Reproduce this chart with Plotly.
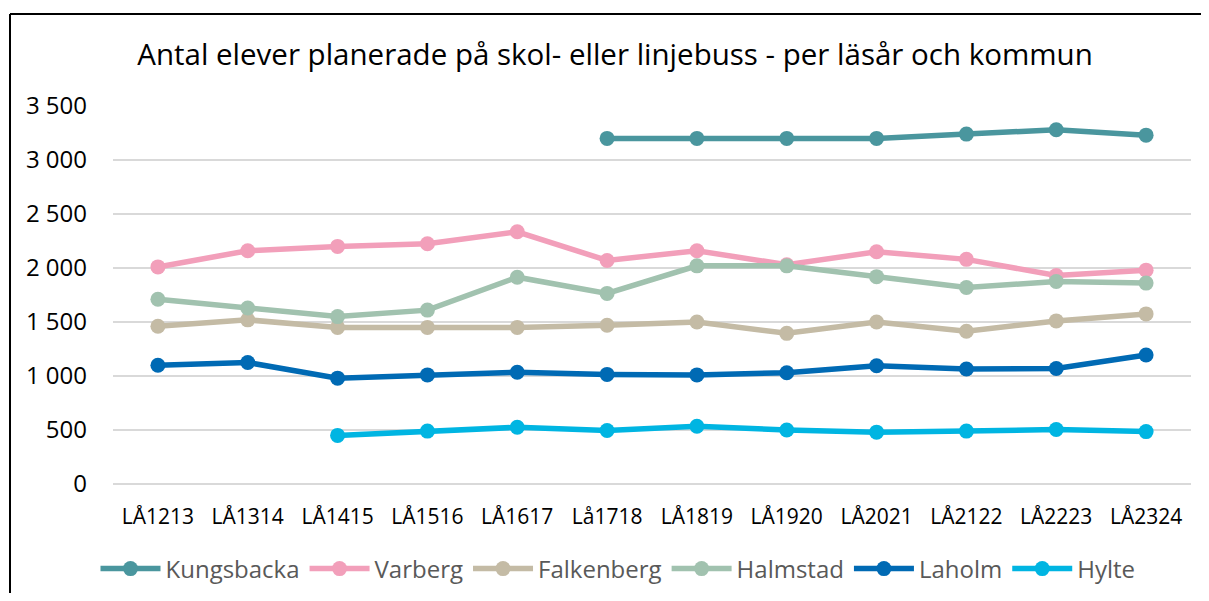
import plotly.graph_objects as go

categories = ["LÅ1213", "LÅ1314", "LÅ1415", "LÅ1516", "LÅ1617", "Lå1718",
              "LÅ1819", "LÅ1920", "LÅ2021", "LÅ2122", "LÅ2223", "LÅ2324"]

kungsbacka = [None, None, None, None, None, 3200, 3200, 3200, 3200, 3240, 3280, 3230]
varberg = [2010, 2160, 2200, 2225, 2335, 2070, 2160, 2030, 2150, 2080, 1930, 1980]
falkenberg = [1460, 1520, 1450, 1450, 1450, 1470, 1500, 1395, 1500, 1415, 1510, 1575]
halmstad = [1710, 1630, 1550, 1610, 1915, 1765, 2020, 2020, 1920, 1820, 1875, 1860]
laholm = [1100, 1125, 980, 1010, 1035, 1015, 1010, 1030, 1095, 1065, 1070, 1195]
hylte = [None, None, 450, 490, 525, 495, 535, 500, 480, 490, 505, 485]

series = [
    ("Kungsbacka", kungsbacka, "#4A969E"),
    ("Varberg", varberg, "#F29FBA"),
    ("Falkenberg", falkenberg, "#C4BBA5"),
    ("Halmstad", halmstad, "#A1C2AF"),
    ("Laholm", laholm, "#006AB4"),
    ("Hylte", hylte, "#00B5E2"),
]

ytick_vals = [0, 500, 1000, 1500, 2000, 2500, 3000, 3500]
ytick_text = ["0", "500", "1 000", "1 500", "2 000", "2 500", "3 000", "3 500"]

fig = go.Figure()
for name, vals, color in series:
    fig.add_trace(go.Scatter(
        x=categories, y=vals, name=name, mode="lines+markers",
        line=dict(color=color, width=5.5),
        marker=dict(color=color, size=15),
        connectgaps=False,
    ))

# page has an 8px body margin; size the figure so it fits without scrollbars
OFF = 8
W, H = 1209 - 2 * OFF, 601 - 2 * OFF
L = 113 - OFF
T = 106 - OFF
R = W - (1191 - OFF)
B = H - (484 - OFF)
pw = W - L - R
ph = H - T - B

fig.update_layout(
    width=W, height=H,
    margin=dict(l=L, r=R, t=T, b=B),
    paper_bgcolor="white", plot_bgcolor="white",
    font=dict(family="Open Sans", color="#000000", size=20),
    title=dict(
        text="Antal elever planerade på skol- eller linjebuss - per läsår och kommun",
        x=(615 - OFF) / W, xanchor="center", y=1 - (55 - OFF) / H, yanchor="middle",
        yref="container",
        font=dict(family="Open Sans", size=29.5, color="#000000"),
    ),
    xaxis=dict(
        type="category", range=[-0.5, 11.5], showgrid=False, showline=False,
        ticks="", tickfont=dict(size=21, color="#000000"), ticklabelstandoff=18,
        automargin=False,
    ),
    yaxis=dict(
        range=[0, 3500], tickvals=ytick_vals, ticktext=ytick_text,
        showgrid=True, gridcolor="#D9D9D9", gridwidth=1.5,
        zeroline=True, zerolinecolor="#D9D9D9", zerolinewidth=1.5,
        showline=False, ticks="", tickfont=dict(size=24, color="#000000"),
        ticklabelstandoff=25, automargin=False,
    ),
    legend=dict(
        orientation="h", xref="container", x=(618 - OFF) / W, xanchor="center",
        yref="container", y=1 - (569 - OFF) / H, yanchor="middle",
        font=dict(size=24, color="#595959"), itemwidth=60, tracegroupgap=0,
    ),
    showlegend=True,
)

left = (10 - 113) / pw
top = (484 - 14) / ph
fig.add_shape(type="line", xref="paper", yref="paper", x0=left, x1=left,
              y0=top, y1=-B / ph, line=dict(color="black", width=2))
fig.add_shape(type="line", xref="paper", yref="paper", x0=left, x1=(W - L) / pw,
              y0=top, y1=top, line=dict(color="black", width=2))

fig.write_html("out.html")
